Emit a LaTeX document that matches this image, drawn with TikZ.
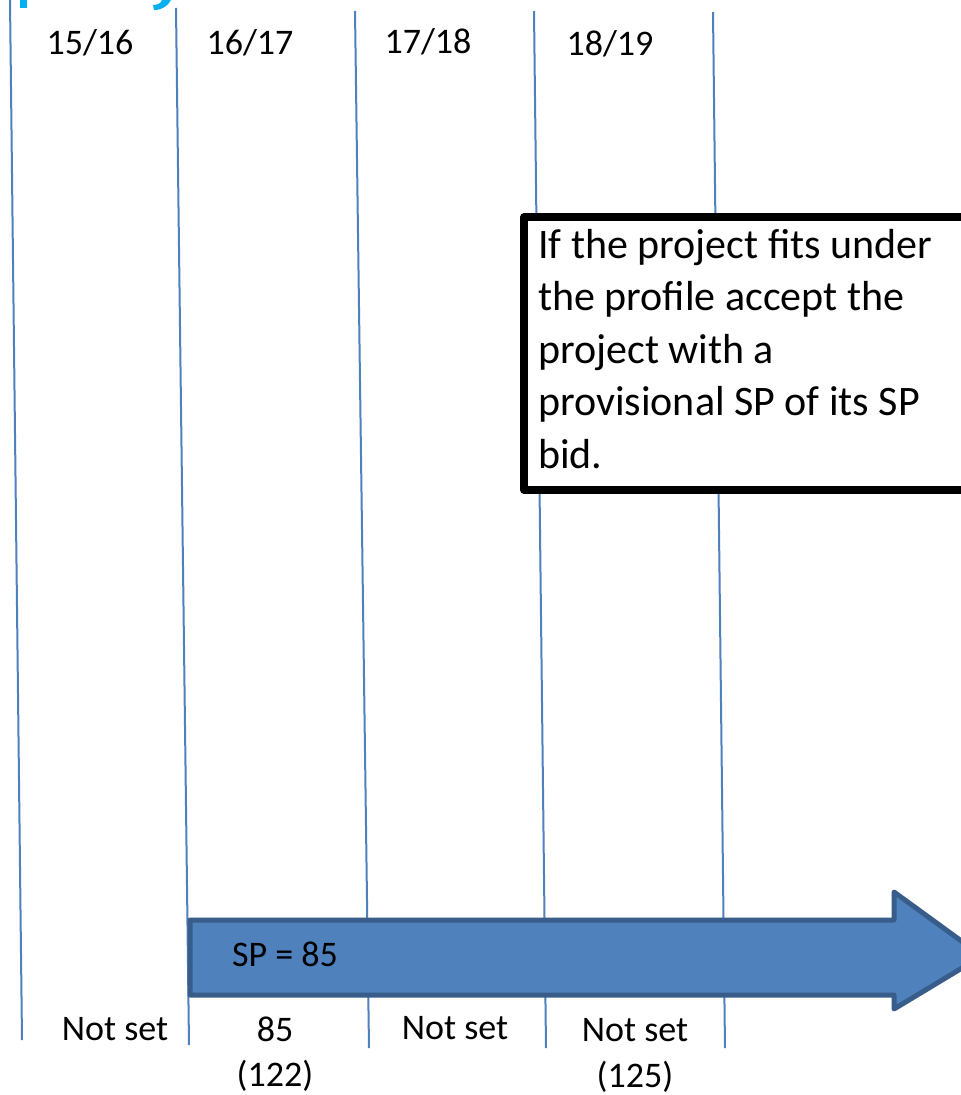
\documentclass[tikz,border=0pt]{standalone}
\usepackage{fontspec}
\setmainfont{Carlito}
\definecolor{lineblue}{HTML}{4F81BD}
\definecolor{arrowfill}{HTML}{4F81BD}
\definecolor{arrowedge}{HTML}{385D8A}
\definecolor{titlecyan}{HTML}{00B0F0}
\tikzset{
  divider/.style={draw=lineblue, line width=2pt},
  lbl/.style={font=\fontsize{36}{40}\selectfont, inner sep=0pt, anchor=center},
  note/.style={draw=black, line width=7.5pt, line join=round},
}
\begin{document}
\begin{tikzpicture}[x=1pt,y=-1pt]
\useasboundingbox (0,0) rectangle (961,1095);
\fill[white] (0,0) rectangle (961,1095);
% cut-off title fragments
\fill[titlecyan] (20,0) rectangle (27,8);
\fill[titlecyan] (171,0) .. controls (168,6) and (162,10) .. (154,10) -- (153,5) .. controls (158,5) and (161,3) .. (162,0) -- cycle;
% dividers
\coordinate (t1) at (10,0);   \coordinate (b1) at (22,1040);
\coordinate (t2) at (176,8);  \coordinate (b2) at (189,1045);
\coordinate (t3) at (355,11); \coordinate (b3) at (369,1048);
\coordinate (t4) at (534,11); \coordinate (b4) at (546,1048);
\coordinate (t5) at (713,12); \coordinate (b5) at (725,1048);
\foreach \i in {1,...,5} {\draw[divider] (t\i) -- (b\i);}
% column labels
\node[lbl] (c1) at (90,43) {15/16};
\node[lbl] (c2) at (250,43) {16/17};
\node[lbl] (c3) at (428,42) {17/18};
\node[lbl] (c4) at (610,44) {18/19};
% note box
\fill[white] (524,217) rectangle (975,490);
\draw[note] (975,217) -- (524,217) -- (524,490) -- (975,490);
\node[font=\fontsize{42}{52.5}\selectfont, anchor=north west, align=left, inner sep=0pt] (note) at (538,229)
  {If the project fits under\\the profile accept the\\project with a\\provisional SP of its SP\\bid.};
% arrow
\draw[fill=arrowfill, draw=arrowedge, line width=5pt, line join=round]
  (190,920) -- (894,920) -- (894,892) -- (982,956) -- (894,1009) -- (894,995) -- (190,995) -- cycle;
\node[lbl] (sp) at (285,954) {SP = 85};
% bottom labels
\node[lbl] (v1) at (115,1029) {Not set};
\node[lbl] (v2) at (275,1029) {85};
\node[lbl] (v2b) at (275,1076) {(122)};
\node[lbl] (v3) at (455,1028) {Not set};
\node[lbl] (v4) at (635,1030) {Not set};
\node[lbl] (v4b) at (635,1077) {(125)};
\end{tikzpicture}
\end{document}
